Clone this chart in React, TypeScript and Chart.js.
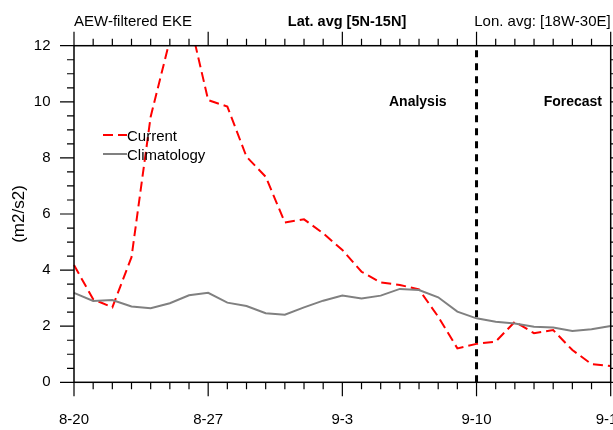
import React, { useEffect, useRef } from 'react';
import { Chart, registerables } from 'chart.js';

Chart.register(...registerables);

const dates = [
  '8-20', '8-21', '8-22', '8-23', '8-24', '8-25', '8-26', '8-27', '8-28', '8-29', '8-30', '8-31',
  '9-1', '9-2', '9-3', '9-4', '9-5', '9-6', '9-7', '9-8', '9-9', '9-10', '9-11', '9-12', '9-13',
  '9-14', '9-15', '9-16', '9-17',
];
const xTickLabels = ['8-20', '8-27', '9-3', '9-10', '9-17'];
const current = [
  4.18, 2.96, 2.67, 4.46, 9.47, 12.2, 13.0, 10.06, 9.83, 8.04, 7.33, 5.7, 5.81, 5.31, 4.72,
  3.94, 3.56, 3.47, 3.31, 2.34, 1.21, 1.37, 1.45, 2.16, 1.75, 1.86, 1.15, 0.65, 0.58,
];
const climatology = [
  3.19, 2.9, 2.93, 2.7, 2.64, 2.82, 3.1, 3.19, 2.84, 2.72, 2.46, 2.41, 2.67, 2.91, 3.09,
  2.99, 3.09, 3.33, 3.29, 3.03, 2.52, 2.28, 2.16, 2.1, 1.98, 1.95, 1.83, 1.89, 2.01,
];
const splitDate = '9-10';
const yMin = 0;
const yMax = 12;
const yMajorStep = 2;
const yMinorStep = 0.5;

const FONT = "'Liberation Sans', Arial, Helvetica, sans-serif";

export default function App() {
  const ref = useRef<HTMLCanvasElement>(null);

  useEffect(() => {
    document.body.style.margin = '0';
    document.body.style.overflow = 'hidden';
    Chart.defaults.font.family = FONT;

    const nclPlugin = {
      id: 'nclFrame',
      beforeDatasetsDraw(chart: any) {
        const { ctx, chartArea: a, scales } = chart;
        const px = scales.x.getPixelForValue(dates.indexOf(splitDate));
        ctx.save();
        ctx.strokeStyle = '#000';
        ctx.lineWidth = 3;
        ctx.setLineDash([7, 6]);
        ctx.beginPath();
        ctx.moveTo(px, a.bottom);
        ctx.lineTo(px, a.top);
        ctx.stroke();
        ctx.restore();
      },
      afterDraw(chart: any) {
        const { ctx, chartArea: a, scales } = chart;
        const xs = scales.x;
        const ys = scales.y;
        ctx.save();
        ctx.strokeStyle = '#000';
        ctx.lineWidth = 1.5;
        ctx.setLineDash([]);
        ctx.strokeRect(a.left, a.top, a.right - a.left, a.bottom - a.top);
        ctx.lineWidth = 1.2;
        ctx.beginPath();
        dates.forEach((d, i) => {
          const px = xs.getPixelForValue(i);
          const len = xTickLabels.includes(d) ? 14 : 7;
          ctx.moveTo(px, a.bottom);
          ctx.lineTo(px, a.bottom + len);
          ctx.moveTo(px, a.top);
          ctx.lineTo(px, a.top - len);
        });
        for (let v = yMin; v <= yMax + 1e-9; v += yMinorStep) {
          const py = ys.getPixelForValue(v);
          const len = Math.abs(v % yMajorStep) < 1e-9 ? 14 : 7;
          ctx.moveTo(a.left, py);
          ctx.lineTo(a.left - len, py);
          ctx.moveTo(a.right, py);
          ctx.lineTo(a.right + len, py);
        }
        ctx.stroke();

        // header texts
        ctx.fillStyle = '#000';
        ctx.textBaseline = 'alphabetic';
        ctx.font = `15px ${FONT}`;
        ctx.textAlign = 'left';
        ctx.fillText('AEW-filtered EKE', a.left, 25.5);
        ctx.textAlign = 'right';
        ctx.fillText('Lon. avg: [18W-30E]', a.right, 25.5);
        ctx.font = `bold 14.5px ${FONT}`;
        ctx.textAlign = 'center';
        ctx.fillText('Lat. avg [5N-15N]', 347, 25.5);

        // Analysis / Forecast
        ctx.font = `bold 14px ${FONT}`;
        ctx.textAlign = 'left';
        ctx.fillText('Analysis', 389, 106);
        ctx.textAlign = 'right';
        ctx.fillText('Forecast', 602, 106);

        // legend
        const items = [
          { label: 'Current', color: '#ff0000', dash: [10, 5], y: 135, ty: 141 },
          { label: 'Climatology', color: '#808080', dash: [], y: 154, ty: 160 },
        ];
        items.forEach((it) => {
          ctx.strokeStyle = it.color;
          ctx.lineWidth = 2;
          ctx.setLineDash(it.dash);
          ctx.beginPath();
          ctx.moveTo(103, it.y);
          ctx.lineTo(127, it.y);
          ctx.stroke();
          ctx.setLineDash([]);
          ctx.fillStyle = '#000';
          ctx.font = `15px ${FONT}`;
          ctx.textAlign = 'left';
          ctx.fillText(it.label, 127, it.ty);
        });
        ctx.restore();
      },
    };

    const chart = new Chart(ref.current as HTMLCanvasElement, {
      type: 'line',
      data: {
        labels: dates,
        datasets: [
          {
            label: 'Climatology',
            data: climatology,
            borderColor: '#808080',
            borderWidth: 2,
            pointRadius: 0,
            tension: 0,
          },
          {
            label: 'Current',
            data: current,
            borderColor: '#ff0000',
            borderWidth: 2,
            borderDash: [10, 5],
            pointRadius: 0,
            tension: 0,
          },
        ],
      },
      options: {
        responsive: false,
        animation: false,
        layout: { padding: { top: 45.7, right: 2.3, left: 0, bottom: 0 } },
        plugins: {
          legend: { display: false },
          tooltip: { enabled: false },
        },
        scales: {
          x: {
            type: 'category',
            offset: false,
            grid: { display: false, drawTicks: false },
            border: { display: false },
            ticks: {
              autoSkip: false,
              maxRotation: 0,
              minRotation: 0,
              padding: 29,
              color: '#000',
              font: { size: 15 },
              callback: (_v: any, i: number) => (xTickLabels.includes(dates[i]) ? dates[i] : null),
            },
            afterFit: (s: any) => {
              s.height = 47.7;
              s.paddingLeft = 0;
              s.paddingRight = 0;
            },
          },
          y: {
            min: yMin,
            max: yMax,
            grid: { display: false, drawTicks: false },
            border: { display: false },
            ticks: { stepSize: yMajorStep, padding: 23.5, color: '#000', font: { size: 15 } },
            title: {
              display: true,
              text: '(m2/s2)',
              color: '#000',
              font: { size: 17 },
              padding: { top: 9, bottom: 0 },
            },
            afterFit: (s: any) => {
              s.width = 74;
            },
          },
        },
      },
      plugins: [nclPlugin],
    } as any);

    return () => chart.destroy();
  }, []);

  return (
    <div style={{ width: 613, height: 430, position: 'relative' }}>
      <canvas ref={ref} width={613} height={430} style={{ display: 'block' }} />
    </div>
  );
}
